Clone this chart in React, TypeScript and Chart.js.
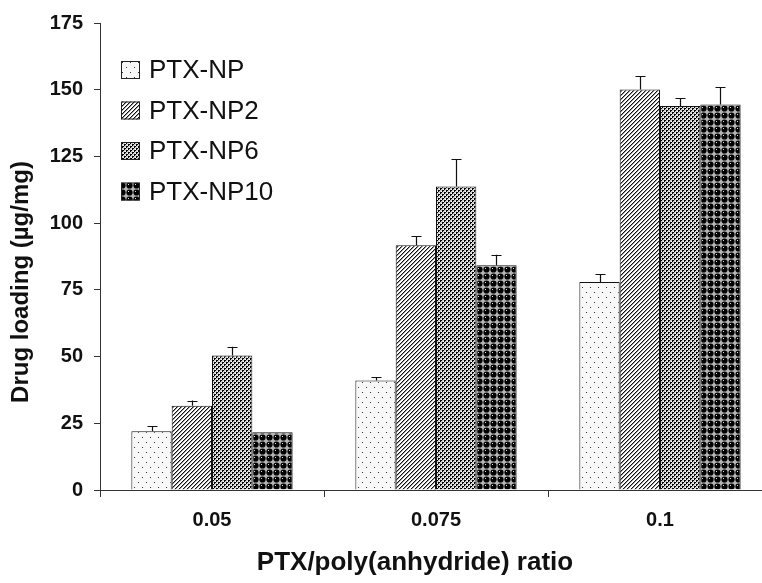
import React, { useEffect, useRef } from "react";
import { Chart, registerables } from "chart.js";

Chart.register(...registerables);

const categories = ["0.05", "0.075", "0.1"];
const seriesNames = ["PTX-NP", "PTX-NP2", "PTX-NP6", "PTX-NP10"];
const npValues = [22.0, 41.0, 77.9];
const np2Values = [31.6, 91.7, 150.1];
const np6Values = [50.4, 113.7, 143.9];
const np10Values = [21.6, 84.2, 144.5];
const npErrors = [1.8, 1.3, 3.0];
const np2Errors = [1.9, 3.3, 5.0];
const np6Errors = [3.3, 10.3, 3.0];
const np10Errors = [0, 4.0, 6.4];
const yMin = 0;
const yMax = 175;
const yStep = 25;
const xTitle = "PTX/poly(anhydride) ratio";
const yTitle = "Drug loading (\u00b5g/mg)";

const FONT = "'Liberation Sans', Arial, Helvetica, sans-serif";

function makePattern(w: number, h: number, draw: (g: CanvasRenderingContext2D) => void) {
  const c = document.createElement("canvas");
  c.width = w;
  c.height = h;
  const g = c.getContext("2d")!;
  draw(g);
  return g.createPattern(c, "repeat")!;
}

function buildPatterns() {
  const p1 = makePattern(8, 10, (g) => {
    g.fillStyle = "#f8f8f8";
    g.fillRect(0, 0, 8, 10);
    g.fillStyle = "#333";
    g.fillRect(2, 2, 1, 1);
    g.fillRect(6, 7, 1, 1);
  });
  const p2 = makePattern(4, 4, (g) => {
    g.fillStyle = "#ffffff";
    g.fillRect(0, 0, 4, 4);
    for (let x = 0; x < 4; x++) {
      for (let y = 0; y < 4; y++) {
        const k = (x + y) % 4;
        if (k === 3) {
          g.fillStyle = "#111";
          g.fillRect(x, y, 1, 1);
        } else if (k === 0) {
          g.fillStyle = "#999";
          g.fillRect(x, y, 1, 1);
        }
      }
    }
  });
  const p3 = makePattern(4, 4, (g) => {
    g.fillStyle = "#cfcfcf";
    g.fillRect(0, 0, 4, 4);
    g.fillStyle = "#000";
    g.fillRect(0, 0, 2, 1);
    g.fillRect(0, 1, 1, 1);
    g.fillRect(2, 2, 2, 1);
    g.fillRect(2, 3, 1, 1);
    g.fillStyle = "#fff";
    g.fillRect(3, 1, 1, 1);
    g.fillRect(1, 3, 1, 1);
  });
  const p4 = makePattern(7, 7, (g) => {
    g.fillStyle = "#b5b5b5";
    g.fillRect(0, 0, 7, 7);
    g.fillStyle = "#000";
    g.beginPath();
    g.arc(3.5, 3.5, 3.1, 0, Math.PI * 2);
    g.fill();
    g.fillStyle = "#ddd";
    g.fillRect(2, 2, 1, 1);
  });
  return [p1, p2, p3, p4];
}

export default function App() {
  const ref = useRef<HTMLCanvasElement | null>(null);

  useEffect(() => {
    const canvas = ref.current;
    if (!canvas) return;
    const patterns = buildPatterns();
    const values = [npValues, np2Values, np6Values, np10Values];
    const errors = [npErrors, np2Errors, np6Errors, np10Errors];

    const errorBarPlugin = {
      id: "errorBars",
      afterDatasetsDraw(chart: any) {
        const ctx = chart.ctx;
        const yScale = chart.scales.y;
        ctx.save();
        ctx.strokeStyle = "#111";
        ctx.lineWidth = 1.2;
        chart.data.datasets.forEach((ds: any, i: number) => {
          const meta = chart.getDatasetMeta(i);
          meta.data.forEach((el: any, j: number) => {
            const err = errors[i][j];
            if (!err) return;
            const top = yScale.getPixelForValue(ds.data[j] + err);
            const x = Math.round(el.x) + 0.5;
            ctx.beginPath();
            ctx.moveTo(x, el.y);
            ctx.lineTo(x, top);
            ctx.moveTo(x - 5, Math.round(top) + 0.5);
            ctx.lineTo(x + 5, Math.round(top) + 0.5);
            ctx.stroke();
          });
        });
        ctx.restore();
      },
    };

    const decorPlugin = {
      id: "decor",
      afterDraw(chart: any) {
        const ctx = chart.ctx;
        ctx.save();
        // legend
        ctx.font = `26px ${FONT}`;
        ctx.textBaseline = "middle";
        ctx.textAlign = "left";
        chart.data.datasets.forEach((ds: any, i: number) => {
          const cy = 70 + i * 40.5;
          ctx.fillStyle = ds.backgroundColor;
          ctx.fillRect(121, cy - 9, 19, 18);
          ctx.strokeStyle = "#222";
          ctx.lineWidth = 1;
          ctx.strokeRect(121.5, cy - 8.5, 18, 17);
          ctx.fillStyle = "#111";
          ctx.fillText(ds.label, 149, cy + 1);
        });
        // axis titles
        ctx.fillStyle = "#111";
        ctx.font = `bold 26px ${FONT}`;
        ctx.textAlign = "center";
        ctx.textBaseline = "middle";
        ctx.fillText(xTitle, 415, 563);
        ctx.translate(21, 282);
        ctx.rotate(-Math.PI / 2);
        ctx.font = `bold 24px ${FONT}`;
        ctx.fillText(yTitle, 0, 0);
        ctx.restore();
      },
    };

    const chart = new Chart(canvas, {
      type: "bar",
      data: {
        labels: categories,
        datasets: seriesNames.map((name, i) => ({
          label: name,
          data: values[i],
          backgroundColor: patterns[i] as any,
          borderColor: "#111",
          borderWidth: 1,
          categoryPercentage: 0.72,
          barPercentage: 1.0,
        })),
      },
      options: {
        responsive: false,
        animation: false,
        devicePixelRatio: 1,
        layout: { padding: { top: 20, right: 10, left: 0, bottom: 0 } },
        plugins: {
          legend: { display: false },
          tooltip: { enabled: false },
        },
        scales: {
          x: {
            grid: {
              display: true,
              drawOnChartArea: false,
              drawTicks: true,
              tickLength: 7,
              color: "#333",
              offset: true,
            },
            border: { display: true, color: "#333", width: 1 },
            ticks: {
              color: "#111",
              font: { family: FONT, size: 20, weight: "bold" },
              padding: 11,
            },
            afterFit: (s: any) => {
              s.height = 93;
            },
          },
          y: {
            min: yMin,
            max: yMax,
            grid: {
              display: true,
              drawOnChartArea: false,
              drawTicks: true,
              tickLength: 6,
              color: "#333",
            },
            border: { display: true, color: "#333", width: 1 },
            ticks: {
              stepSize: yStep,
              color: "#111",
              font: { family: FONT, size: 20, weight: "bold" },
              padding: 11,
            },
            afterFit: (s: any) => {
              s.width = 100;
            },
          },
        },
      } as any,
      plugins: [errorBarPlugin, decorPlugin],
    });
    return () => chart.destroy();
  }, []);

  return (
    <div
      style={{
        position: "fixed",
        left: 0,
        top: 0,
        width: 762,
        height: 583,
        overflow: "hidden",
        background: "#fff",
      }}
    >
      <canvas ref={ref} width={782} height={583} style={{ display: "block" }} />
    </div>
  );
}
